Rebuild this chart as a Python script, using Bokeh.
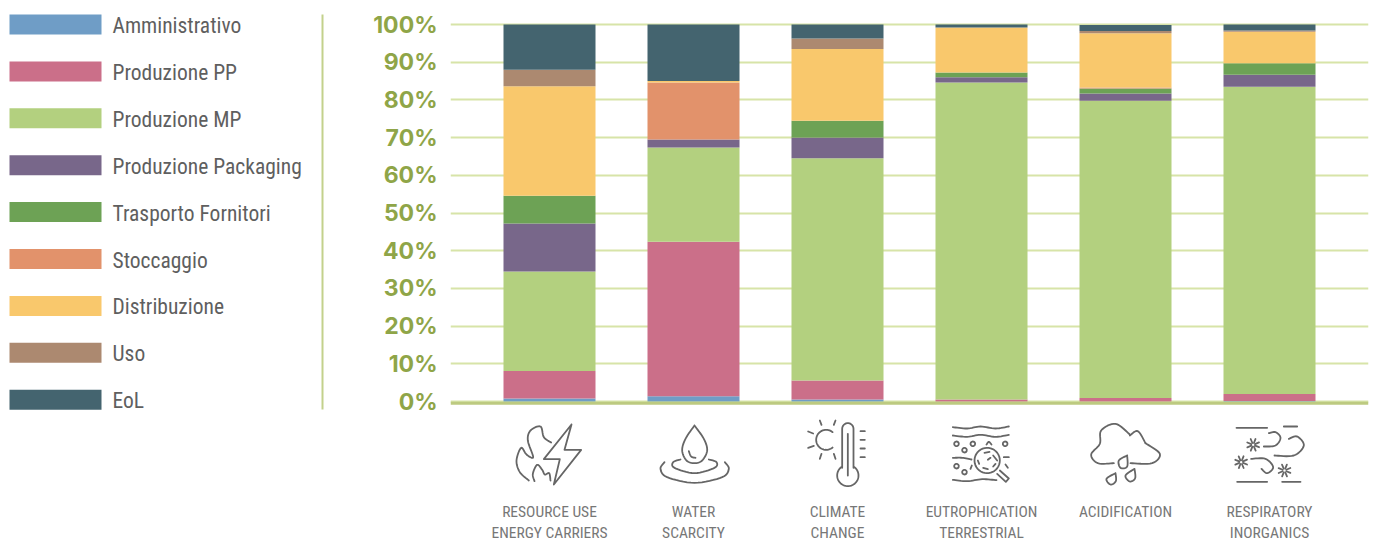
import numpy as np
from bokeh.plotting import figure
from bokeh.layouts import row
from bokeh.core.properties import value
from bokeh.models import ColumnDataSource, FixedTicker, PrintfTickFormatter, Span, Range1d
from bokeh.embed import file_html
from bokeh.resources import INLINE

categories = ["RESOURCE USE\nENERGY CARRIERS", "WATER\nSCARCITY", "CLIMATE\nCHANGE",
              "EUTROPHICATION\nTERRESTRIAL", "ACIDIFICATION\n ", "RESPIRATORY\nINORGANICS"]
series_names = ["Amministrativo", "Produzione PP", "Produzione MP", "Produzione Packaging",
                "Trasporto Fornitori", "Stoccaggio", "Distribuzione", "Uso", "EoL"]
amministrativo = [0.8, 1.4, 0.5, 0.0, 0.0, 0.1]
produzione_pp = [7.3, 41.0, 5.1, 0.5, 0.9, 1.9]
produzione_mp = [26.4, 25.0, 58.9, 84.1, 78.9, 81.5]
produzione_packaging = [12.7, 2.1, 5.5, 1.4, 1.9, 3.2]
trasporto_fornitori = [7.4, 0.0, 4.5, 1.3, 1.3, 3.0]
stoccaggio = [0.0, 15.1, 0.0, 0.0, 0.3, 0.0]
distribuzione = [29.0, 0.4, 19.0, 11.9, 14.4, 8.4]
uso = [4.4, 0.0, 2.8, 0.0, 0.6, 0.3]
eol = [12.0, 15.0, 3.7, 0.8, 1.6, 1.6]
colors = ["#6f9dc6", "#cb6f89", "#b3d07f", "#78678a", "#6da255", "#e2926b", "#f9c86c", "#ac8970", "#44646f"]
y_ticks = [0, 10, 20, 30, 40, 50, 60, 70, 80, 90, 100]

PX_PER_PCT = 3.77
PX_PER_CAT = 144.0
ZERO_Y = 401.0
FIRST_X = 549.0
FRAME_L, FRAME_R, FRAME_T, FRAME_B = 450.0, 1368.0, 10.0, 490.0
AXIS_W = 80
LEFT_W = int(FRAME_L) - AXIS_W
PAGE_H = 541


def spline(pts, closed=False, n=8):
    """Catmull-Rom smoothing of a stroke's control points."""
    p = np.array(pts, dtype=float)
    p = np.vstack([p[0], p, p[-1]])
    out = []
    for i in range(1, len(p) - 2):
        for t in np.linspace(0, 1, n, endpoint=False):
            a, b, c, d = p[i - 1], p[i], p[i + 1], p[i + 2]
            out.append(0.5 * (2 * b + (c - a) * t + (2 * a - 5 * b + 4 * c - d) * t ** 2 + (3 * b - a - 3 * c + d) * t ** 3))
    out.append(p[-2])
    return [tuple(q) for q in out]


def arc(cx, cy, r, a0, a1, n=40):
    t = np.radians(np.linspace(a0, a1, n))
    return [(cx + r * np.cos(v), cy - r * np.sin(v)) for v in t]


def star(cx, cy, r0=6, r1=19):
    return [[(cx + r0 * np.cos(a), cy + r0 * np.sin(a)), (cx + r1 * np.cos(a), cy + r1 * np.sin(a))]
            for a in np.radians(np.arange(0, 360, 45) + 22)]


# Icon strokes, as seen in 3x crops: (crop x, crop y); crop origin is given with each group.
icons_a = [
    [(243, 132), (160, 236), (208, 236), (190, 312), (272, 208), (222, 208), (243, 132)],
    spline([(182, 186), (160, 170), (150, 138), (120, 150), (112, 180), (128, 230), (108, 222), (92, 202), (78, 240), (88, 275), (115, 300)]),
    spline([(132, 302), (127, 280), (140, 253), (155, 268), (163, 282), (176, 278), (180, 300)]),
    spline([(612, 135), (640, 175), (650, 210), (635, 240), (612, 248), (588, 240), (575, 210), (585, 175), (612, 135)]),
    spline([(595, 212), (602, 228), (615, 232)]),
    spline([(570, 237), (548, 245), (552, 262), (612, 278), (672, 262), (678, 245), (655, 237)]),
    spline([(522, 245), (510, 265), (530, 290), (612, 307), (695, 290), (715, 265), (703, 245)]),
    arc(1007, 178, 30, 50, 310),
    [(988, 120), (993, 133)], [(1035, 120), (1030, 133)], [(953, 153), (968, 159)], [(953, 202), (970, 196)],
    [(988, 235), (993, 220)], [(1035, 235), (1030, 220)],
    [(1055, 262), (1055, 145)] + arc(1072, 145, 17, 180, 0, 16) + [(1089, 262)] + arc(1072, 285, 32, 58, -238, 40) + [(1055, 262)],
    [(1072, 160), (1072, 285)],
    [(1110, 152), (1123, 152)], [(1110, 178), (1123, 178)], [(1110, 204), (1123, 204)], [(1110, 230), (1123, 230)],
]
icons_b = [
    spline([(157, 140), (200, 144), (240, 138), (285, 144), (325, 138)]),
    spline([(157, 165), (200, 169), (240, 163), (285, 169), (325, 163)]),
    arc(168, 190, 7, 0, 360, 16), arc(217, 190, 7, 0, 360, 16), arc(192, 209, 7, 0, 360, 16),
    arc(314, 190, 7, 0, 360, 16), arc(168, 257, 7, 0, 360, 16), arc(192, 275, 7, 0, 360, 16),
    spline([(258, 192), (265, 184), (273, 192)]),
    arc(260, 240, 38, 0, 360, 40),
    [(298, 270), (325, 294), (316, 304), (290, 280)],
    spline([(157, 232), (185, 232), (213, 237)]), [(310, 230), (325, 230)],
    spline([(157, 298), (200, 302), (245, 296), (288, 299)]),
    [(252, 217), (267, 214)], [(278, 225), (290, 240)], [(262, 238), (270, 232)],
    [(248, 262), (262, 266)], [(278, 258), (285, 250)], [(232, 240), (236, 250)], [(214, 255), (210, 265)], [(315, 252), (322, 262)],
    spline([(640, 248), (592, 248), (572, 222), (598, 190), (602, 150), (645, 130), (688, 162)]),
    spline([(688, 165), (712, 152), (735, 188)]),
    spline([(735, 188), (778, 220), (755, 248), (690, 248)]),
    spline([(680, 225), (655, 240), (660, 262), (680, 258), (680, 225)]),
    spline([(645, 278), (618, 295), (630, 312), (646, 302), (645, 278)]),
    spline([(702, 265), (675, 285), (688, 303), (704, 293), (702, 265)]),
    [(1008, 142), (1100, 142)], [(1150, 138), (1190, 138)],
    spline([(1090, 198), (1125, 195), (1140, 172), (1125, 155), (1105, 158)]),
    spline([(1122, 225), (1180, 225), (1210, 195), (1190, 168), (1165, 175)]),
    spline([(1052, 235), (1095, 235), (1118, 260), (1100, 278), (1083, 265)]),
    [(1010, 304), (1100, 304)], [(1145, 304), (1200, 304)],
] + star(1058, 193) + star(1022, 245) + star(1152, 270)


def to_data(stroke, ox, oy):
    xs = [((ox + x / 3) - FIRST_X) / PX_PER_CAT for x, y in stroke]
    ys = [(ZERO_Y - (oy + y / 3)) / PX_PER_PCT for x, y in stroke]
    return xs, ys


icon_x, icon_y = [], []
for group, ox, oy in ((icons_a, 490, 380), (icons_b, 900, 380)):
    for s in group:
        xs, ys = to_data(s, ox, oy)
        icon_x.append(xs)
        icon_y.append(ys)

data = dict(x=list(range(len(categories))))
values = [amministrativo, produzione_pp, produzione_mp, produzione_packaging, trasporto_fornitori,
          stoccaggio, distribuzione, uso, eol]
for name, v in zip(series_names, values):
    data[name] = v
source = ColumnDataSource(data)

# ---- main chart ----
p = figure(frame_width=int(FRAME_R - FRAME_L), frame_height=int(FRAME_B - FRAME_T),
           output_backend="svg", toolbar_location=None,
           x_range=Range1d((FRAME_L - FIRST_X) / PX_PER_CAT, (FRAME_R - FIRST_X) / PX_PER_CAT),
           y_range=Range1d((ZERO_Y - FRAME_B) / PX_PER_PCT, (ZERO_Y - FRAME_T) / PX_PER_PCT),
           min_border_left=AXIS_W, min_border_right=8, min_border_top=10, min_border_bottom=0,
           outline_line_color=None, background_fill_color="white", border_fill_color="white")

p.vbar_stack(series_names, x="x", width=92 / PX_PER_CAT, color=colors, line_color=None, source=source)
p.multi_line(icon_x, icon_y, line_color="#666666", line_width=1.8, line_cap="round", line_join="round")

GREEN_TXT = "#8fa548"
ya = p.yaxis[0]
ya.ticker = FixedTicker(ticks=y_ticks)
ya.formatter = PrintfTickFormatter(format="%d%%")
ya.axis_line_color = None
ya.major_tick_line_color = None
ya.minor_tick_line_color = None
ya.major_tick_out = 0
ya.major_label_standoff = 13
ya.major_label_text_color = GREEN_TXT
ya.major_label_text_font = "Inter"
ya.major_label_text_font_style = "bold"
ya.major_label_text_font_size = "23px"

xa = p.xaxis[0]
xa.ticker = FixedTicker(ticks=list(range(len(categories))))
xa.major_label_overrides = {i: c for i, c in enumerate(categories)}
xa.axis_line_color = None
xa.major_tick_line_color = None
xa.minor_tick_line_color = None
xa.major_tick_out = 0
xa.major_label_standoff = 12
xa.major_label_text_color = "#777777"
xa.major_label_text_font = "Roboto Condensed"
xa.major_label_text_font_size = "15.5px"

p.xgrid.visible = False
p.ygrid.ticker = FixedTicker(ticks=y_ticks)
p.ygrid.grid_line_color = "#d7e4a8"
p.ygrid.grid_line_width = 2
p.add_layout(Span(location=-0.45, dimension="width", line_color="#bdca80", line_width=3))

# ---- legend panel, its range in pixels of the page ----
TOP_GAP = 10
q = figure(frame_width=LEFT_W, frame_height=PAGE_H - TOP_GAP, output_backend="svg", toolbar_location=None,
           x_axis_location=None, y_axis_location=None,
           x_range=Range1d(0, LEFT_W), y_range=Range1d(PAGE_H, TOP_GAP),
           min_border=0, outline_line_color=None, background_fill_color="white", border_fill_color="white")
q.grid.visible = False

ROW_TOP, ROW_STEP, SWATCH_H = 14.0, 46.9, 20.0
row_tops = [ROW_TOP + i * ROW_STEP for i in range(len(series_names))]
legend_source = ColumnDataSource(dict(
    top=row_tops,
    bottom=[t + SWATCH_H for t in row_tops],
    mid=[t + SWATCH_H / 2 + 1 for t in row_tops],
    name=series_names,
    color=colors,
))
q.quad(left=9, right=101, top="top", bottom="bottom", fill_color="color", line_color=None, source=legend_source)
q.text(x=112, y="mid", text="name", text_baseline="middle", text_align="left",
       text_font=value("Roboto Condensed"), text_font_size="21.5px", text_color="#5f5f5f", source=legend_source)
q.line([322, 322], [14, 409], line_color="#c3d18c", line_width=2)

layout = row(q, p, spacing=0)
open("out.html", "w").write(file_html(layout, INLINE))
